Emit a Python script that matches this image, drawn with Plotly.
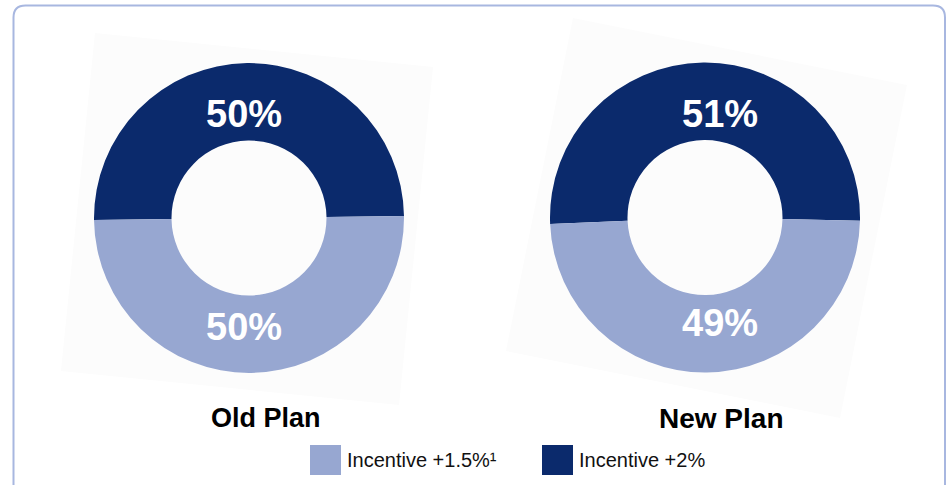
import plotly.graph_objects as go

# ---- data ----
plans = ["Old Plan", "New Plan"]
series = ["Incentive +2%", "Incentive +1.5%¹"]
old_values = [50, 50]   # [+2%, +1.5%]
new_values = [51, 49]
colors = ["#0B2A6C", "#97A7D1"]
legend_order = [1, 0]   # light first, then dark

W, H = 949, 485
def px(x): return x / W
def py(y): return 1 - y / H

FONT = "Liberation Sans, Arial, sans-serif"

fig = go.Figure()

# pies: (values, centre x, centre y, radius, rotation)
pie_specs = [
    (old_values, 249, 218, 155, -90.7),
    (new_values, 705, 217.5, 155, -92.4),
]
for vals, cx, cy, r, rot in pie_specs:
    fig.add_trace(go.Pie(
        values=vals, labels=series, sort=False, direction="clockwise",
        rotation=rot, hole=0.5,
        marker=dict(colors=colors, line=dict(width=0)),
        textinfo="none", hoverinfo="label+percent", showlegend=False,
        domain=dict(x=[px(cx - r), px(cx + r)], y=[py(cy + r), py(cy - r)]),
    ))

shapes = []
# very faint tilted background squares behind the donuts (scan artefact)
for pts in [
    [(95, 33), (433, 67), (399, 405), (61, 371)],
    [(573, 18), (907, 85), (840, 418), (506, 351)],
]:
    path = "M " + " L ".join(f"{px(x):.5f},{py(y):.5f}" for x, y in pts) + " Z"
    shapes.append(dict(type="path", xref="paper", yref="paper", path=path,
                       fillcolor="#FCFCFC", line=dict(width=0), layer="below"))

# rounded frame
L, T, R_, B, rad = 13.5, 5.5, 945, 520, 12
frame = (f"M {px(L+rad)},{py(T)} L {px(R_-rad)},{py(T)} "
         f"Q {px(R_)},{py(T)} {px(R_)},{py(T+rad)} "
         f"L {px(R_)},{py(B)} L {px(L)},{py(B)} "
         f"L {px(L)},{py(T+rad)} Q {px(L)},{py(T)} {px(L+rad)},{py(T)} Z")
shapes.append(dict(type="path", xref="paper", yref="paper", path=frame,
                   line=dict(color="#A8B7E0", width=2), fillcolor="rgba(0,0,0,0)"))

annotations = []
# value labels
label_pos = [
    [(244, 114), (244, 327)],
    [(720, 114), (720, 323)],
]
for vals, pos in zip([old_values, new_values], label_pos):
    for v, (x, y) in zip(vals, pos):
        annotations.append(dict(x=px(x), y=py(y), xref="paper", yref="paper",
                                text=f"<b>{v}%</b>", showarrow=False,
                                font=dict(family=FONT, size=38, color="white"),
                                xanchor="center", yanchor="middle"))
# plan titles
for name, x, size in zip(plans, [266, 721], [27, 28]):
    annotations.append(dict(x=px(x), y=py(418), xref="paper", yref="paper",
                            text=f"<b>{name}</b>", showarrow=False,
                            font=dict(family=FONT, size=size, color="black"),
                            xanchor="center", yanchor="middle"))

# manual legend
leg_x = [310, 542]
for i, x0 in zip(legend_order, leg_x):
    shapes.append(dict(type="rect", xref="paper", yref="paper",
                       x0=px(x0), x1=px(x0 + 31), y0=py(475), y1=py(445),
                       fillcolor=colors[i], line=dict(width=0)))
    annotations.append(dict(x=px(x0 + 35), y=py(460), xref="paper", yref="paper",
                            text=series[i], showarrow=False,
                            font=dict(family=FONT, size=20, color="#111111"),
                            xanchor="left", yanchor="middle"))

fig.update_layout(
    width=W, height=H, margin=dict(l=0, r=0, t=0, b=0),
    paper_bgcolor="white", plot_bgcolor="white",
    shapes=shapes, annotations=annotations,
)
fig.write_html("out.html")
